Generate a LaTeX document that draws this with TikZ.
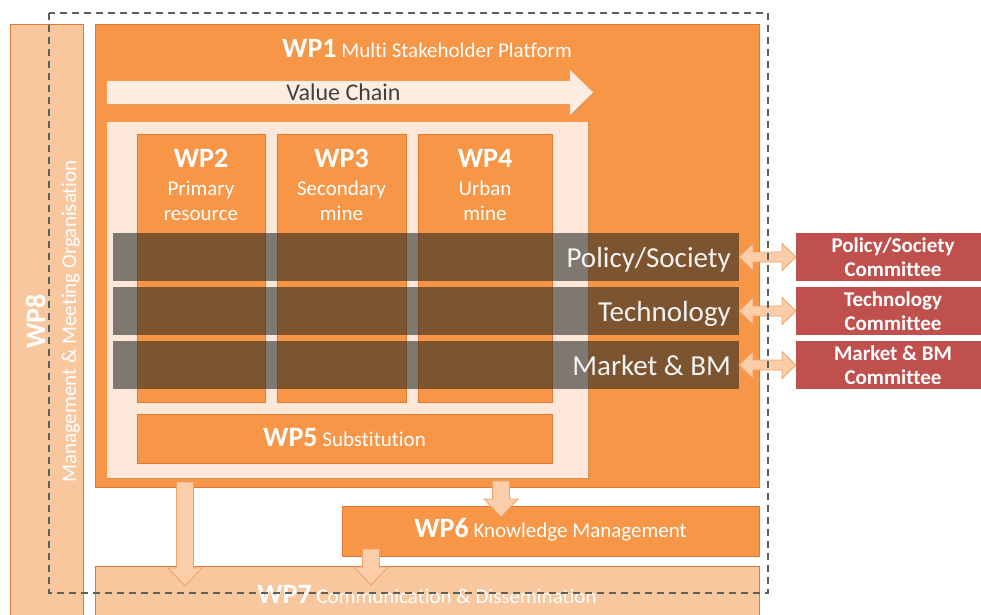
\documentclass[tikz,border=0pt]{standalone}
\usepackage{fontspec}
\setmainfont{Carlito}[Ligatures={NoCommon,NoContextual},Contextuals=NoAlternate]
\usetikzlibrary{calc,shadows}
\definecolor{wporange}{RGB}{246,150,70}
\definecolor{wpedge}{RGB}{222,122,52}
\definecolor{wplight}{RGB}{252,231,216}
\definecolor{wppeach}{RGB}{249,199,158}
\definecolor{wpred}{RGB}{192,80,77}
\definecolor{vcfill}{RGB}{253,237,225}
\definecolor{bandcol}{RGB}{25,30,30}
\definecolor{bandtxt}{RGB}{242,242,242}
\definecolor{arrowfill}{RGB}{251,205,168}
\definecolor{arrowedge}{RGB}{240,160,100}
\definecolor{dashcol}{RGB}{90,96,90}
\newcommand{\wpnum}[1]{{\fontsize{28}{30}\selectfont\bfseries #1}}
\begin{document}
\begin{tikzpicture}[x=1pt,y=-1pt,
	wpbox/.style={draw=wpedge,fill=wporange,line width=1pt,inner sep=0pt,outer sep=0pt,anchor=north west},
	paler/.style={wpbox,fill=wppeach},
	softshadow/.style={drop shadow={shadow xshift=1.2pt,shadow yshift=-1.2pt,opacity=.25}},
	wpbig/.style={font=\fontsize{28}{30}\selectfont\bfseries,text=white,inner sep=0pt},
	wpsmall/.style={font=\fontsize{21}{24}\selectfont,text=white,inner sep=0pt},
	band/.style={fill=bandcol,fill opacity=.55,inner sep=0pt,outer sep=0pt,anchor=north west,minimum width=626pt,minimum height=48pt},
	bandtext/.style={font=\fontsize{29}{32}\selectfont,text=bandtxt,inner sep=0pt,anchor=base east},
	committee/.style={fill=wpred,text=white,font=\fontsize{21}{24}\selectfont\bfseries,align=center,inner sep=0pt,outer sep=0pt,anchor=north west,minimum width=194pt,minimum height=48pt},
	updown/.style={fill=arrowfill,draw=arrowedge,line width=.8pt,
		to path={let \p1=(\tikztostart),\p2=(\tikztotarget) in
			(\x1-8.5pt,\y1) -- (\x1+8.5pt,\y1) -- (\x1+8.5pt,\y2+18pt) -- (\x1+17pt,\y2+18pt)
			-- (\x1,\y2) -- (\x1-17pt,\y2+18pt) -- (\x1-8.5pt,\y2+18pt) -- cycle}},
	twoway/.style={fill=arrowfill,draw=arrowedge,line width=.8pt,
		to path={let \p1=(\tikztostart),\p2=(\tikztotarget) in
			(\x1,\y1) -- (\x1+14pt,\y1+13.5pt) -- (\x1+14pt,\y1+5pt) -- (\x2-14pt,\y1+5pt)
			-- (\x2-14pt,\y1+13.5pt) -- (\x2,\y1) -- (\x2-14pt,\y1-13.5pt) -- (\x2-14pt,\y1-5pt)
			-- (\x1+14pt,\y1-5pt) -- (\x1+14pt,\y1-13.5pt) -- cycle}},
	dashline/.style={draw=dashcol,line width=1.3pt,dash pattern=on 7pt off 5pt}]
	\useasboundingbox (0,0) rectangle (981,614);
	\fill[white] (0,0) rectangle (981,614);
	% management bar
	\node[paler,minimum width=73pt,minimum height=606pt] (wp8) at (10,24) {};
	\node[wpbig,anchor=base,rotate=90] (wp8t) at (45,321.5) {WP8};
	\node[wpsmall,anchor=base,rotate=90] (wp8s) at (76,321.5) {Management \& Meeting Organisation};
	% platform
	\node[wpbox,minimum width=664pt,minimum height=463pt] (wp1) at (95,24) {};
	\node[wpsmall,anchor=base] (wp1t) at (427,57) {\wpnum{WP1} Multi Stakeholder Platform};
	\draw[fill=vcfill,draw=vcfill!85!wpedge,softshadow] (107,81) -- (570,81) -- (570,70) -- (593,92.5)
		-- (570,115) -- (570,104) -- (107,104) -- cycle;
	\node[font=\fontsize{24}{26}\selectfont,text=black!75,inner sep=0pt,anchor=base] (vc) at (343.5,100) {Value Chain};
	\node[fill=wplight,inner sep=0pt,outer sep=0pt,anchor=north west,minimum width=481pt,minimum height=356pt,softshadow] (panel) at (107,122) {};
	% value chain packages
	\node[wpbox,minimum width=128pt,minimum height=268pt,softshadow] (wp2) at (137,134) {};
	\node[wpbox,minimum width=129pt,minimum height=268pt,softshadow] (wp3) at (277,134) {};
	\node[wpbox,minimum width=134pt,minimum height=268pt,softshadow] (wp4) at (418,134) {};
	\foreach \n/\la/\lb in {2/Primary/resource,3/Secondary/mine,4/Urban/mine}{
		\node[wpbig,anchor=base] (wp\n t) at ([yshift=-33pt]wp\n.north) {WP\n};
		\node[wpsmall,anchor=base] (wp\n a) at ([yshift=-61pt]wp\n.north) {\la};
		\node[wpsmall,anchor=base] (wp\n b) at ([yshift=-86pt]wp\n.north) {\lb};
	}
	\node[wpbox,minimum width=415pt,minimum height=49pt,softshadow] (wp5) at (137,414) {};
	\node[wpsmall,anchor=base] (wp5t) at (344.5,446) {\wpnum{WP5} Substitution};
	% cross-cutting bands and committees
	\node[band] (pol) at (113,233) {};
	\node[band] (tec) at (113,287) {};
	\node[band] (mar) at (113,341) {};
	\node[bandtext] (polt) at ([xshift=-8pt,yshift=-10pt]pol.east) {Policy/Society};
	\node[bandtext] (tect) at ([xshift=-8pt,yshift=-10pt]tec.east) {Technology};
	\node[bandtext] (mart) at ([xshift=-8pt,yshift=-10pt]mar.east) {Market \& BM};
	\node[committee] (polc) at (796,233) {Policy/Society\\Committee};
	\node[committee] (tecc) at (796,287) {Technology\\Committee};
	\node[committee] (marc) at (796,341) {Market \& BM\\Committee};
	\draw[twoway] (pol.east) to (polc.west);
	\draw[twoway] (tec.east) to (tecc.west);
	\draw[twoway] (mar.east) to (marc.west);
	% knowledge and communication
	\node[wpbox,minimum width=417pt,minimum height=50pt] (wp6) at (342,506) {};
	\node[wpsmall,anchor=base] (wp6t) at (550.5,537) {\wpnum{WP6} Knowledge Management};
	\node[paler,minimum width=664pt,minimum height=64pt] (wp7) at (95,566) {};
	\node[wpsmall,anchor=base] (wp7t) at (427,603) {\wpnum{WP7} Communication \& Dissemination};
	\draw[updown] ([xshift=90pt,yshift=5pt]wp1.south west) to ([xshift=90pt,yshift=-20pt]wp7.north west);
	\draw[updown] ([xshift=406pt,yshift=6pt]wp1.south west) to ([xshift=159pt,yshift=-11pt]wp6.north west);
	\draw[updown] ([xshift=29pt,yshift=7pt]wp6.south west) to ([xshift=276pt,yshift=-19pt]wp7.north west);
	% consortium boundary
	\draw[dashline] (49,13) rectangle (768,593);
\end{tikzpicture}
\end{document}
